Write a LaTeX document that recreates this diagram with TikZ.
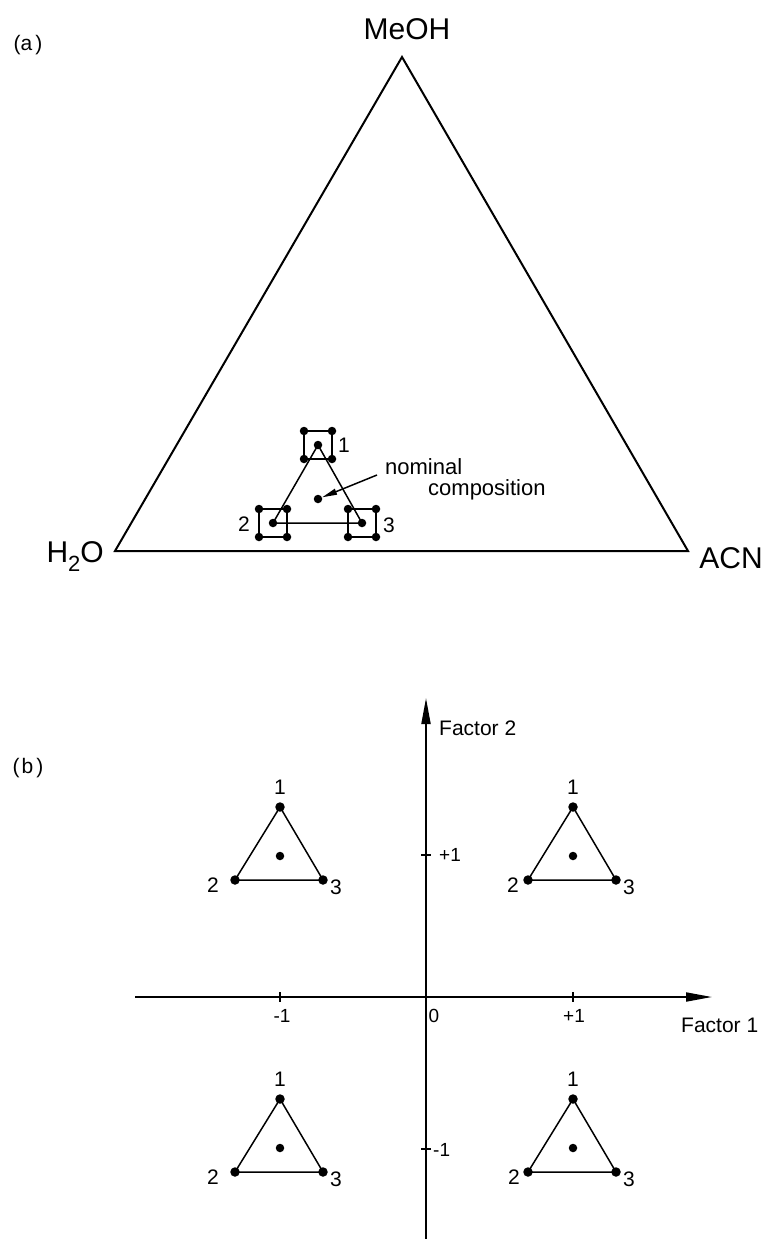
\documentclass[tikz,border=0pt]{standalone}
\usepackage{fontspec}
\setmainfont{Liberation Sans}
\usetikzlibrary{arrows.meta}
\begin{document}
\begin{tikzpicture}[x=1pt,y=-1pt,
  dot/.style={circle,fill=black,inner sep=0pt,minimum size=9.5pt},
  sdot/.style={circle,fill=black,inner sep=0pt,minimum size=8.5pt},
  lbl/.style={font=\fontsize{21}{23}\selectfont,inner sep=0pt},
  slbl/.style={font=\fontsize{19}{21}\selectfont,inner sep=0pt},
  biglbl/.style={font=\fontsize{30}{32}\selectfont,inner sep=0pt},
  txt/.style={font=\fontsize{22}{24}\selectfont,inner sep=0pt,anchor=west},
  bigline/.style={line width=2pt,line join=miter},
  thinline/.style={line width=1.5pt},
  axis/.style={line width=1.9pt,-{Triangle[length=26pt,width=9pt]}},
  tick/.style={line width=1.6pt}
]
\useasboundingbox (0,0) rectangle (772,1239);

% ---------------- (a) ----------------
\node[lbl] (la) at (28,45) {(a\hspace{3pt})};
\coordinate (M) at (402,57);
\coordinate (W) at (115,551);
\coordinate (A) at (688,551);
\draw[bigline] (M) -- (W) -- (A) -- cycle;
\node[biglbl] (meoh) at (407,29) {MeOH};
\node[biglbl,anchor=east] (h2o) at (104,557) {H\raisebox{-0.3em}{\fontsize{22}{24}\selectfont 2}O};
\node[biglbl] (acn) at (731,558) {ACN};

% small ternary design
\coordinate (v1) at (318,445);
\coordinate (v2) at (273,523);
\coordinate (v3) at (362,523);
\coordinate (vc) at (318,499);
\draw[thinline] (v1) -- (v2) -- (v3) -- cycle;
\foreach \v in {1,2,3}{
  \draw[thinline] ([shift={(-14,-14)}]v\v) rectangle ([shift={(14,14)}]v\v);
  \node[sdot] (s\v a) at ([shift={(-14,-14)}]v\v) {};
  \node[sdot] (s\v b) at ([shift={(14,-14)}]v\v) {};
  \node[sdot] (s\v c) at ([shift={(-14,14)}]v\v) {};
  \node[sdot] (s\v d) at ([shift={(14,14)}]v\v) {};
  \node[sdot] (d\v) at (v\v) {};
}
\node[sdot] (dc) at (vc) {};
\node[lbl] (n1) at (344,445) {1};
\node[lbl] (n2) at (244,524) {2};
\node[lbl] (n3) at (389,525) {3};
\node[txt] (nom) at (385,467) {nominal};
\node[txt] (comp) at (428,490) {composition};
\coordinate (arrtail) at (377,475);
\draw[thinline,-{Triangle[length=15pt,width=6pt]}] (arrtail) -- (dc);

% ---------------- (b) ----------------
\node[lbl] (lb) at (28,768) {(\hspace{2pt}b\hspace{3pt})};
\coordinate (ybot) at (426,1239);
\coordinate (ytop) at (426,698);
\coordinate (xl) at (135,997);
\coordinate (xr) at (712,997);
\draw[axis] (ybot) -- (ytop);
\draw[axis] (xl) -- (xr);
\node[lbl,anchor=west] (f2) at (439,728) {Factor 2};
\node[lbl,anchor=west] (f1) at (681,1025) {Factor 1};

% ticks
\draw[tick] (280,992) -- (280,1002);
\draw[tick] (573,992) -- (573,1002);
\draw[tick] (421,855) -- (431,855);
\draw[tick] (421,1149) -- (431,1149);
\node[slbl] (tm1x) at (282,1016) {-1};
\node[slbl] (t0x) at (434,1016) {0};
\node[slbl] (tp1x) at (574,1016) {+1};
\node[slbl,anchor=west] (tp1y) at (439,855) {+1};
\node[slbl,anchor=west] (tm1y) at (433,1150) {-1};

% four triangles
\foreach \n/\cx/\cy/\ox in {ul/280/856/-22, ur/573/856/-15, ll/280/1148/-22, lr/573/1148/-14}{
  \coordinate (\n c) at (\cx,\cy);
  \coordinate (\n 1) at ([shift={(0,-49)}]\n c);
  \coordinate (\n 2) at ([shift={(-45,24)}]\n c);
  \coordinate (\n 3) at ([shift={(43,24)}]\n c);
  \draw[thinline] (\n 1) -- (\n 2) -- (\n 3) -- cycle;
  \node[dot] (\n d1) at (\n 1) {};
  \node[dot] (\n d2) at (\n 2) {};
  \node[dot] (\n d3) at (\n 3) {};
  \node[sdot] (\n dc) at (\n c) {};
  \node[lbl] (\n l1) at ([shift={(0,-20)}]\n 1) {1};
  \node[lbl] (\n l2) at ([shift={(\ox,5)}]\n 2) {2};
  \node[lbl] (\n l3) at ([shift={(13,7)}]\n 3) {3};
}
\end{tikzpicture}
\end{document}
